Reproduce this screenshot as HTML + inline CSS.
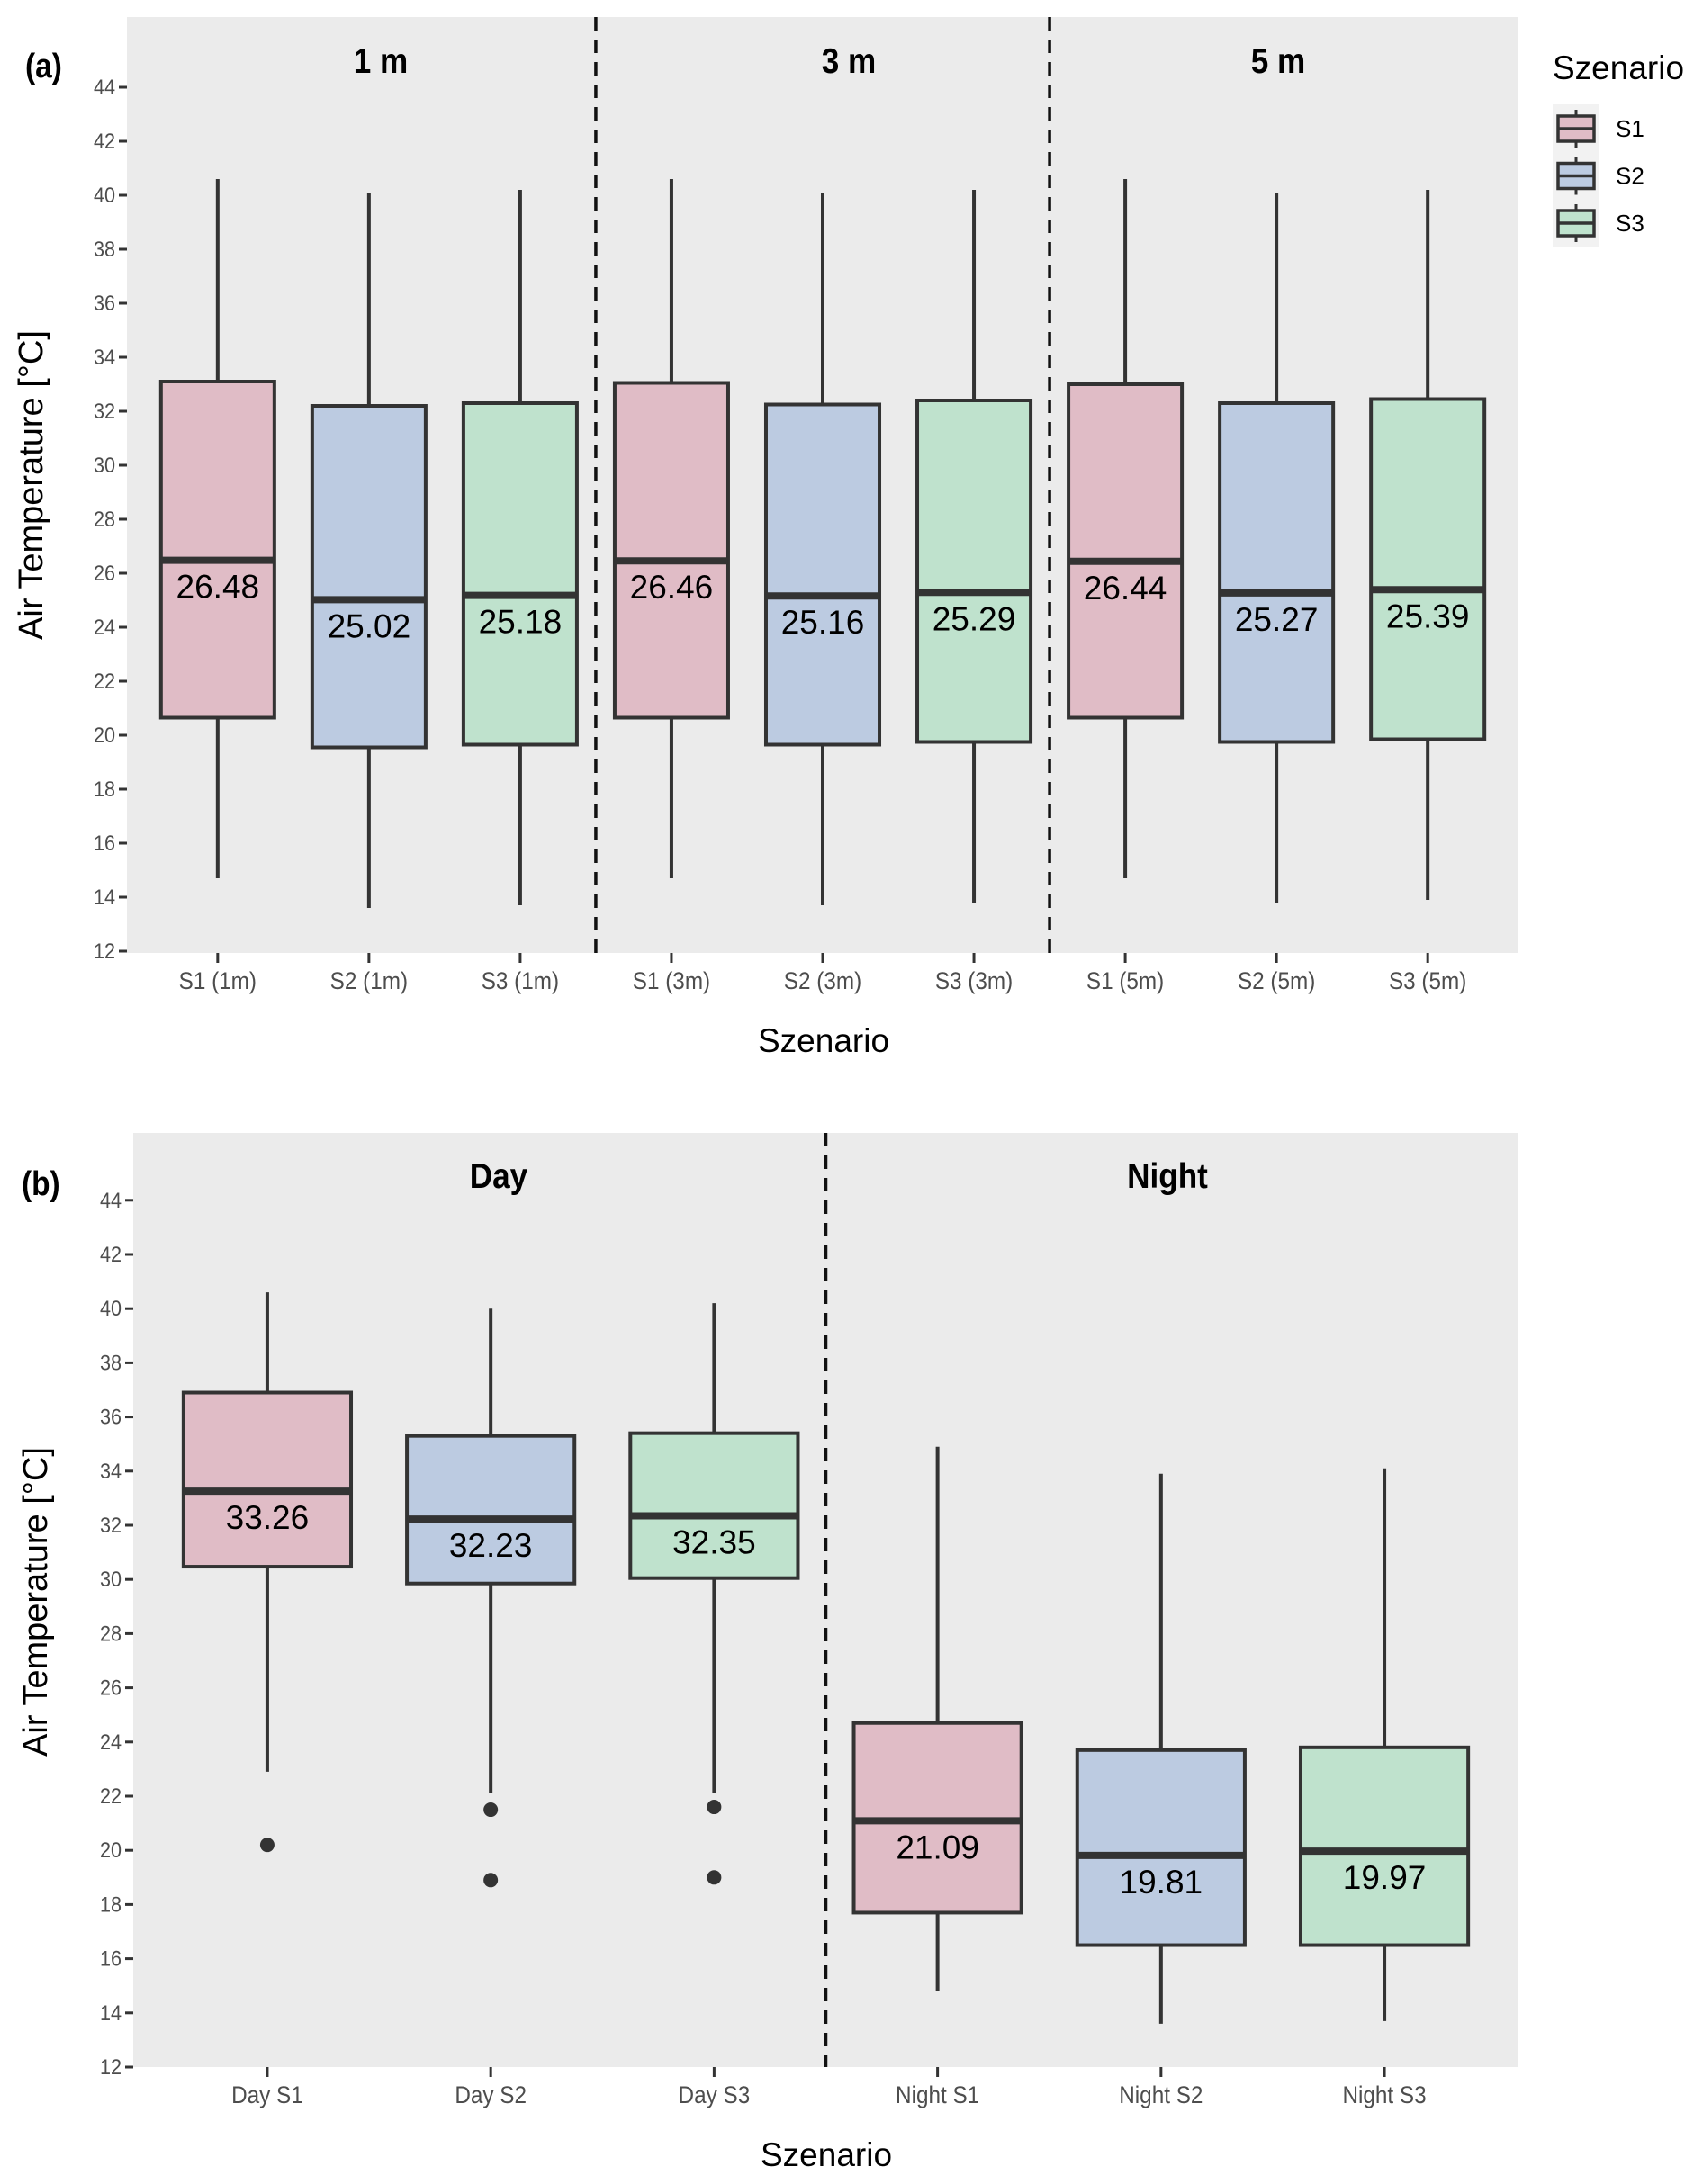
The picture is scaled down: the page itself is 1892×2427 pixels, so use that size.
<!DOCTYPE html>
<html><head><meta charset="utf-8"><style>
html,body{margin:0;padding:0;background:#fff;}
svg{display:block;font-family:"Liberation Sans",Arial,sans-serif;}
</style></head><body>
<svg id="fig" width="1892" height="2427" viewBox="0 0 1892 2427" xmlns="http://www.w3.org/2000/svg">
<rect width="1892" height="2427" fill="#fff"/>
</svg>
<script>
// ---- Panel (a) data ----
const catsA = ["S1 (1m)","S2 (1m)","S3 (1m)","S1 (3m)","S2 (3m)","S3 (3m)","S1 (5m)","S2 (5m)","S3 (5m)"];
const groupA = [0,1,2,0,1,2,0,1,2];
const lowA  = [14.7,13.6,13.7,14.7,13.7,13.8,14.7,13.8,13.9];
const q1A   = [20.65,19.55,19.65,20.65,19.65,19.75,20.65,19.75,19.85];
const medA  = [26.48,25.02,25.18,26.46,25.16,25.29,26.44,25.27,25.39];
const q3A   = [33.1,32.2,32.3,33.05,32.25,32.4,33.0,32.3,32.45];
const highA = [40.6,40.1,40.2,40.6,40.1,40.2,40.6,40.1,40.2];
const outA  = [[],[],[],[],[],[],[],[],[]];
const facetA = ["1 m","3 m","5 m"];
// ---- Panel (b) data ----
const catsB = ["Day S1","Day S2","Day S3","Night S1","Night S2","Night S3"];
const groupB = [0,1,2,0,1,2];
const lowB  = [22.9,22.1,22.1,14.8,13.6,13.7];
const q1B   = [30.47,29.85,30.05,17.7,16.5,16.5];
const medB  = [33.26,32.23,32.35,21.09,19.81,19.97];
const q3B   = [36.9,35.3,35.4,24.7,23.7,23.8];
const highB = [40.6,40.0,40.2,34.9,33.9,34.1];
const outB  = [[20.2],[21.5,18.9],[21.6,19.0],[],[],[]];
const facetB = ["Day","Night"];
const yTicks = [12,14,16,18,20,22,24,26,28,30,32,34,36,38,40,42,44];
const legendLabels = ["S1","S2","S3"];

const fills = ["#e0bcc6","#bccbe1","#bfe2cd"];
const NS = "http://www.w3.org/2000/svg";
const svg = document.getElementById("fig");
function el(tag, attrs, parent, text){
  const e = document.createElementNS(NS, tag);
  for (const k in attrs) e.setAttribute(k, attrs[k]);
  if (text !== undefined) e.textContent = text;
  (parent||svg).appendChild(e);
  return e;
}

function panel(cfg){
  const g = el("g", {});
  
  
  const {x0,x1,yTop,yBot,pxPer,n} = cfg;
  const y = v => cfg.y12 - (v - 12) * pxPer;
  const step = (x1 - x0) / (n + 0.2);
  const x = i => x0 + (0.6 + i) * step;
  const bg = el("rect", {x:x0, y:yTop, width:x1-x0, height:yBot-yTop, fill:"#ebebeb"}, g);
  
  
  yTicks.forEach(t => {
    const tk = el("line", {x1:x0-9, x2:x0, y1:y(t), y2:y(t), stroke:"#333", "stroke-width":3}, g);
    
    
    const tl = el("text", {x:x0-13, y:y(t)+8, "text-anchor":"end", "font-size":24, fill:"#4d4d4d", transform:`translate(${(x0-13)*0.1},0) scale(0.9,1)`}, g, t);
    
    
  });
  cfg.seps.forEach(s => {
    const d = el("line", {x1:x(s), x2:x(s), y1:yTop, y2:yBot, stroke:"#111", "stroke-width":3.5, "stroke-dasharray":"15,10"}, g);
    
    
  });
  const bw = step * 0.75;
  for (let i = 0; i < n; i++){
    const cx = x(i);
    const bx = el("g", {}, g);
    
    
    el("line", {x1:cx, x2:cx, y1:y(cfg.high[i]), y2:y(cfg.q3[i]), stroke:"#333", "stroke-width":4}, bx);
    el("line", {x1:cx, x2:cx, y1:y(cfg.q1[i]), y2:y(cfg.low[i]), stroke:"#333", "stroke-width":4}, bx);
    el("rect", {x:cx-bw/2, y:y(cfg.q3[i]), width:bw, height:y(cfg.q1[i])-y(cfg.q3[i]), fill:fills[cfg.group[i]], stroke:"#333", "stroke-width":4}, bx);
    el("line", {x1:cx-bw/2, x2:cx+bw/2, y1:y(cfg.med[i]), y2:y(cfg.med[i]), stroke:"#333", "stroke-width":8}, bx);
    cfg.out[i].forEach(o => {
      const c = el("circle", {cx:cx, cy:y(o), r:8, fill:"#333"}, bx);
      
      
    });
    const ml = el("text", {x:cx, y:y(cfg.med[i])+42, "text-anchor":"middle", "font-size":37, fill:"#000"}, g, cfg.med[i].toFixed(2));
    
    
    const xt = el("line", {x1:cx, x2:cx, y1:yBot, y2:yBot+11, stroke:"#333", "stroke-width":3}, g);
    
    
    const xl = el("text", {x:cx, y:yBot+40, "text-anchor":"middle", "font-size":27, fill:"#4d4d4d", transform:`translate(${cx*0.1},0) scale(0.9,1)`}, g, cfg.cats[i]);
    
    
  }
  cfg.facets.forEach((f, k) => {
    const ft = el("text", {x:cfg.facetX[k], y:cfg.facetY, "text-anchor":"middle", "font-size":39, "font-weight":"bold", fill:"#000", transform:`translate(${cfg.facetX[k]*0.1},0) scale(0.9,1)`}, g, f);
    
    
  });
  const pl = el("text", {x:cfg.tagX, y:cfg.tagY, "font-size":38, "font-weight":"bold", fill:"#000", transform:`translate(${cfg.tagX*0.12},0) scale(0.88,1)`}, g, cfg.tag);
  
  
  const yt = el("text", {x:0, y:0, transform:`translate(${cfg.ytX},${cfg.ytY}) rotate(-90)`, "text-anchor":"middle", "font-size":38, fill:"#000"}, g, "Air Temperature [°C]");
  
  
  const xtt = el("text", {x:cfg.xtX, y:cfg.xtY, "text-anchor":"middle", "font-size":37, fill:"#000"}, g, "Szenario");
  
  
}

panel({name:"panel-a", x0:141, x1:1687, yTop:19, yBot:1059, y12:1057, pxPer:30, n:9,
  cats:catsA, group:groupA, low:lowA, q1:q1A, med:medA, q3:q3A, high:highA, out:outA,
  seps:[2.5,5.5], facets:facetA, facetX:[423,943,1420], facetY:81,
  tag:"(a)", tagX:28, tagY:86, ytX:47, ytY:539, xtX:915, xtY:1169});
panel({name:"panel-b", x0:148, x1:1687, yTop:1259, yBot:2297, y12:2297, pxPer:30.1, n:6,
  cats:catsB, group:groupB, low:lowB, q1:q1B, med:medB, q3:q3B, high:highB, out:outB,
  seps:[2.5], facets:facetB, facetX:[554,1297], facetY:1320,
  tag:"(b)", tagX:24, tagY:1328, ytX:52, ytY:1780, xtX:918, xtY:2407});

const lg = el("g", {});


const lt = el("text", {x:1725, y:88, "font-size":37, fill:"#000"}, lg, "Szenario");


el("rect", {x:1725, y:116, width:52, height:158, fill:"#f2f2f2"}, lg);
legendLabels.forEach((lab, k) => {
  const cy = 143 + k * 52.5;
  const e = el("g", {}, lg);
  
  
  el("line", {x1:1751, x2:1751, y1:cy-21, y2:cy+21, stroke:"#333", "stroke-width":3}, e);
  el("rect", {x:1731, y:cy-14, width:40, height:28, fill:fills[k], stroke:"#333", "stroke-width":3.5}, e);
  el("line", {x1:1731, x2:1771, y1:cy, y2:cy, stroke:"#333", "stroke-width":3.5}, e);
  el("text", {x:1795, y:cy+9, "font-size":26, fill:"#000"}, e, lab);
});
</script>
</body></html>
